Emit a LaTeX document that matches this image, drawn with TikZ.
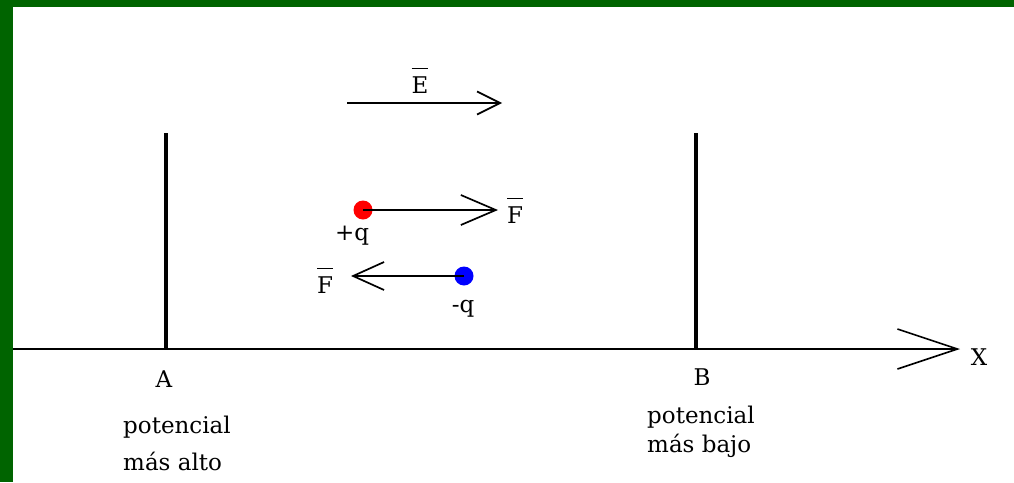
\documentclass[tikz,border=0pt]{standalone}
\usepackage{fontspec}
\setmainfont{DejaVu Serif}
\usetikzlibrary{arrows.meta}
\definecolor{frame}{RGB}{0,100,0}
\newcommand\barred[1]{\vbox{\hrule height 1.6pt\kern 7pt\hbox{#1}}}
\tikzset{
  lbl/.style={font=\fontsize{23}{26}\selectfont, inner sep=0pt, anchor=base},
  plate/.style={line width=3.2pt},
  vec/.style={line width=1.7pt},
  dot/.style={circle, minimum size=19pt, inner sep=0pt}
}
\begin{document}
\begin{tikzpicture}[x=1pt,y=-1pt]
\useasboundingbox (0,0) rectangle (1014,482);
\fill[white] (0,0) rectangle (1014,482);
\fill[frame] (0,0) rectangle (1014,7);
\fill[frame] (0,0) rectangle (13,482);

% plates
\coordinate (Atop) at (166,133);
\coordinate (Abot) at (166,349);
\coordinate (Btop) at (696,133);
\coordinate (Bbot) at (696,349);
\draw[plate] (Atop) -- (Abot);
\draw[plate] (Btop) -- (Bbot);

% x axis
\coordinate (xs) at (13,349);
\coordinate (xe) at (960,349);
\draw[line width=2pt, -{Straight Barb[length=60pt,width=40pt,line width=1.6pt]}] (xs) -- (xe);
\node[lbl] (X) at (979,365) {X};

% field arrow
\coordinate (es) at (347,103);
\coordinate (ee) at (502,103);
\draw[vec, -{Straight Barb[length=23pt,width=23pt]}] (es) -- (ee);
\node[lbl] (E) at (420,93) {\barred{E}};

% charges
\node[dot, fill={rgb,255:red,255;green,0;blue,0}] (pq) at (363,210) {};
\node[dot, fill={rgb,255:red,0;green,0;blue,255}] (nq) at (464,276) {};
\coordinate (pe) at (498,210);
\coordinate (ne) at (351,276);
\draw[vec, -{Straight Barb[length=35pt,width=30pt]}] (pq.center) -- (pe);
\draw[vec, -{Straight Barb[length=31pt,width=28pt]}] (nq.center) -- (ne);
\node[lbl] (F1) at (515,223) {\barred{F}};
\node[lbl] (F2) at (325,293) {\barred{F}};
\node[lbl] (pql) at (352,240) {+q};
\node[lbl] (nql) at (463,312) {-q};

% labels
\node[lbl] (A) at (164,387) {A};
\node[lbl, anchor=base west] (A1) at (123,433) {potencial};
\node[lbl, anchor=base west] (A2) at (123,470) {más alto};
\node[lbl] (B) at (702,385) {B};
\node[lbl, anchor=base west] (B1) at (647,423) {potencial};
\node[lbl, anchor=base west] (B2) at (647,452) {más bajo};
\end{tikzpicture}
\end{document}
